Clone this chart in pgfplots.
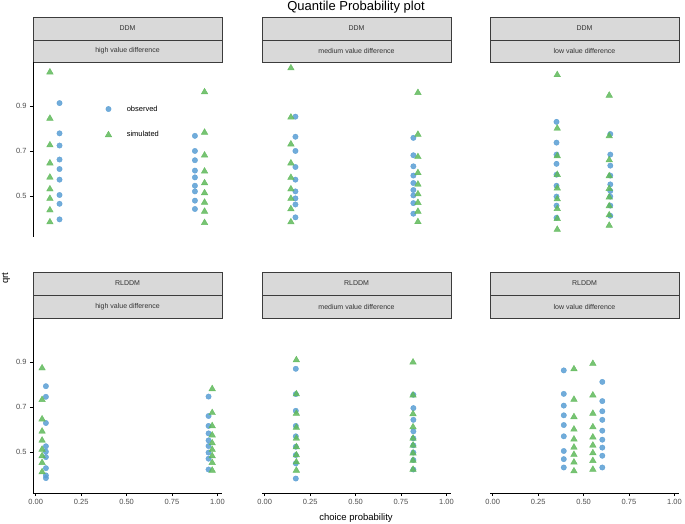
\documentclass[border=0pt]{standalone}
\usepackage{fontspec}
\setmainfont{Liberation Sans}
\usepackage{pgfplots}
\pgfplotsset{compat=1.18}

\definecolor{obsblue}{RGB}{88,157,211}
\definecolor{simgreen}{RGB}{95,185,90}
\definecolor{stripfill}{RGB}{217,217,217}
\definecolor{stripline}{RGB}{60,60,60}
\definecolor{tickgray}{RGB}{77,77,77}

\pgfplotsset{
  panel/.style={anchor=north west, scale only axis, width=189pt, height=175pt,
    xmin=-0.015, xmax=1.025, ymin=0.32, ymax=1.095,
    xtick={0,0.25,0.5,0.75,1}, xticklabels={0.00,0.25,0.50,0.75,1.00},
    ytick={0.5,0.7,0.9}, yticklabels={0.5,0.7,0.9},
    tick align=outside, major tick length=3pt,
    tick style={black, line width=0.6pt},
    axis line style={line width=0.9pt},
    tick label style={font=\fontsize{7.5}{9}\selectfont, text=tickgray},
    clip=false},
  obs/.style={only marks, mark=*, mark size=2.7pt, draw=obsblue, fill=obsblue, opacity=0.85},
  sim/.style={only marks, mark=triangle*, mark size=3.8pt, draw=simgreen, fill=simgreen, opacity=0.85},
}

\begin{document}
\begin{tikzpicture}[x=1pt,y=1pt]
\path[use as bounding box] (0,0) rectangle (685,-524);

\node[font=\fontsize{13}{15}\selectfont] at (356,-7.5) {Quantile Probability plot};

% strips
\foreach \c/\m/\v in {33/DDM/high, 262/DDM/medium, 490/DDM/low} {
  \draw[fill=stripfill, draw=stripline, line width=0.7pt] (\c,-17) rectangle ++(189,-23);
  \draw[fill=stripfill, draw=stripline, line width=0.7pt] (\c,-40) rectangle ++(189,-22);
  \node[font=\fontsize{7}{8}\selectfont, text=black!80] at (\c+94.5,-28.5) {\m};
  \node[font=\fontsize{7}{8}\selectfont, text=black!80] at (\c+94.5,-51) {\v\ value difference};
}
\foreach \c/\m/\v in {33/RLDDM/high, 262/RLDDM/medium, 490/RLDDM/low} {
  \draw[fill=stripfill, draw=stripline, line width=0.7pt] (\c,-272) rectangle ++(189,-23);
  \draw[fill=stripfill, draw=stripline, line width=0.7pt] (\c,-295) rectangle ++(189,-23);
  \node[font=\fontsize{7}{8}\selectfont, text=black!80] at (\c+94.5,-283.5) {\m};
  \node[font=\fontsize{7}{8}\selectfont, text=black!80] at (\c+94.5,-306.5) {\v\ value difference};
}

% DDM, high value difference
\begin{axis}[panel, at={(33pt,-62pt)}, hide x axis, axis y line*=left,
  legend style={draw=none, fill=none, at={(rel axis cs:0.365,0.775)}, anchor=north west,
    font=\fontsize{7.5}{9}\selectfont, row sep=15pt, column sep=13pt},
  legend cell align=left]
\addplot[obs] coordinates {(0.131,0.913)(0.131,0.779)(0.131,0.725)(0.131,0.663)(0.131,0.621)(0.131,0.574)(0.131,0.506)(0.131,0.467)(0.131,0.398)
  (0.876,0.768)(0.876,0.701)(0.876,0.660)(0.876,0.614)(0.876,0.584)(0.876,0.547)(0.876,0.522)(0.876,0.481)(0.876,0.444)};
\addlegendentry{observed}
\addplot[sim] coordinates {(0.078,1.050)(0.078,0.845)(0.078,0.727)(0.078,0.647)(0.078,0.584)(0.078,0.532)(0.078,0.490)(0.078,0.439)(0.078,0.386)
  (0.929,0.962)(0.929,0.783)(0.929,0.682)(0.929,0.611)(0.929,0.559)(0.929,0.515)(0.929,0.473)(0.929,0.433)(0.929,0.383)};
\addlegendentry{simulated}
\end{axis}

% DDM, medium value difference
\begin{axis}[panel, at={(262pt,-62pt)}, hide x axis, hide y axis]
\addplot[obs] coordinates {(0.169,0.853)(0.169,0.764)(0.169,0.701)(0.169,0.630)(0.169,0.574)(0.169,0.522)(0.169,0.491)(0.169,0.464)(0.169,0.407)
  (0.818,0.759)(0.818,0.682)(0.818,0.633)(0.818,0.592)(0.818,0.559)(0.818,0.528)(0.818,0.504)(0.818,0.470)(0.818,0.423)};
\addplot[sim] coordinates {(0.144,1.068)(0.144,0.850)(0.144,0.731)(0.144,0.647)(0.144,0.583)(0.144,0.532)(0.144,0.490)(0.144,0.444)(0.144,0.386)
  (0.843,0.959)(0.843,0.774)(0.843,0.675)(0.843,0.604)(0.843,0.553)(0.843,0.510)(0.843,0.472)(0.843,0.433)(0.843,0.387)};
\end{axis}

% DDM, low value difference
\begin{axis}[panel, at={(490pt,-62pt)}, hide x axis, hide y axis]
\addplot[obs] coordinates {(0.351,0.830)(0.351,0.738)(0.351,0.685)(0.351,0.644)(0.351,0.596)(0.351,0.547)(0.351,0.499)(0.351,0.459)(0.351,0.405)
  (0.647,0.776)(0.647,0.685)(0.647,0.636)(0.647,0.592)(0.647,0.553)(0.647,0.524)(0.647,0.499)(0.647,0.459)(0.647,0.414)};
\addplot[sim] coordinates {(0.355,1.038)(0.355,0.801)(0.355,0.679)(0.355,0.596)(0.355,0.536)(0.355,0.488)(0.355,0.445)(0.355,0.401)(0.355,0.353)
  (0.641,0.947)(0.641,0.767)(0.641,0.661)(0.641,0.590)(0.641,0.534)(0.641,0.496)(0.641,0.457)(0.641,0.417)(0.641,0.371)};
\end{axis}

% RLDDM, high value difference
\begin{axis}[panel, at={(33pt,-318pt)}, axis x line*=bottom, axis y line*=left]
\addplot[obs] coordinates {(0.056,0.793)(0.056,0.746)(0.056,0.630)(0.056,0.527)(0.056,0.503)(0.056,0.479)(0.056,0.430)(0.056,0.398)(0.056,0.386)
  (0.951,0.747)(0.951,0.661)(0.951,0.617)(0.951,0.584)(0.951,0.553)(0.951,0.528)(0.951,0.499)(0.951,0.472)(0.951,0.424)};
\addplot[sim] coordinates {(0.035,0.873)(0.035,0.733)(0.035,0.647)(0.035,0.593)(0.035,0.553)(0.035,0.513)(0.035,0.484)(0.035,0.454)(0.035,0.413)
  (0.971,0.781)(0.971,0.675)(0.971,0.617)(0.971,0.576)(0.971,0.541)(0.971,0.512)(0.971,0.484)(0.971,0.454)(0.971,0.420)};
\end{axis}

% RLDDM, medium value difference
\begin{axis}[panel, at={(262pt,-318pt)}, axis x line*=bottom, hide y axis]
\addplot[obs] coordinates {(0.171,0.870)(0.171,0.758)(0.171,0.684)(0.171,0.617)(0.171,0.571)(0.171,0.525)(0.171,0.488)(0.171,0.451)(0.171,0.384)
  (0.818,0.755)(0.818,0.696)(0.818,0.644)(0.818,0.593)(0.818,0.562)(0.818,0.531)(0.818,0.499)(0.818,0.466)(0.818,0.424)};
\addplot[sim] coordinates {(0.174,0.909)(0.174,0.758)(0.174,0.672)(0.174,0.610)(0.174,0.562)(0.174,0.524)(0.174,0.488)(0.174,0.457)(0.174,0.420)
  (0.816,0.899)(0.816,0.753)(0.816,0.670)(0.816,0.612)(0.816,0.562)(0.816,0.531)(0.816,0.496)(0.816,0.464)(0.816,0.424)};
\end{axis}

% RLDDM, low value difference
\begin{axis}[panel, at={(490pt,-318pt)}, axis x line*=bottom, hide y axis]
\addplot[obs] coordinates {(0.391,0.863)(0.391,0.759)(0.391,0.707)(0.391,0.664)(0.391,0.621)(0.391,0.571)(0.391,0.506)(0.391,0.470)(0.391,0.433)
  (0.603,0.812)(0.603,0.727)(0.603,0.682)(0.603,0.644)(0.603,0.596)(0.603,0.556)(0.603,0.521)(0.603,0.485)(0.603,0.433)};
\addplot[sim] coordinates {(0.447,0.869)(0.447,0.734)(0.447,0.657)(0.447,0.602)(0.447,0.558)(0.447,0.522)(0.447,0.490)(0.447,0.456)(0.447,0.417)
  (0.551,0.893)(0.551,0.753)(0.551,0.672)(0.551,0.612)(0.551,0.567)(0.551,0.531)(0.551,0.497)(0.551,0.463)(0.551,0.424)};
\end{axis}

\node[font=\fontsize{9.5}{11}\selectfont] at (356,-518) {choice probability};
\node[font=\fontsize{9.5}{11}\selectfont, rotate=90] at (6,-278) {qrt};
\end{tikzpicture}
\end{document}
